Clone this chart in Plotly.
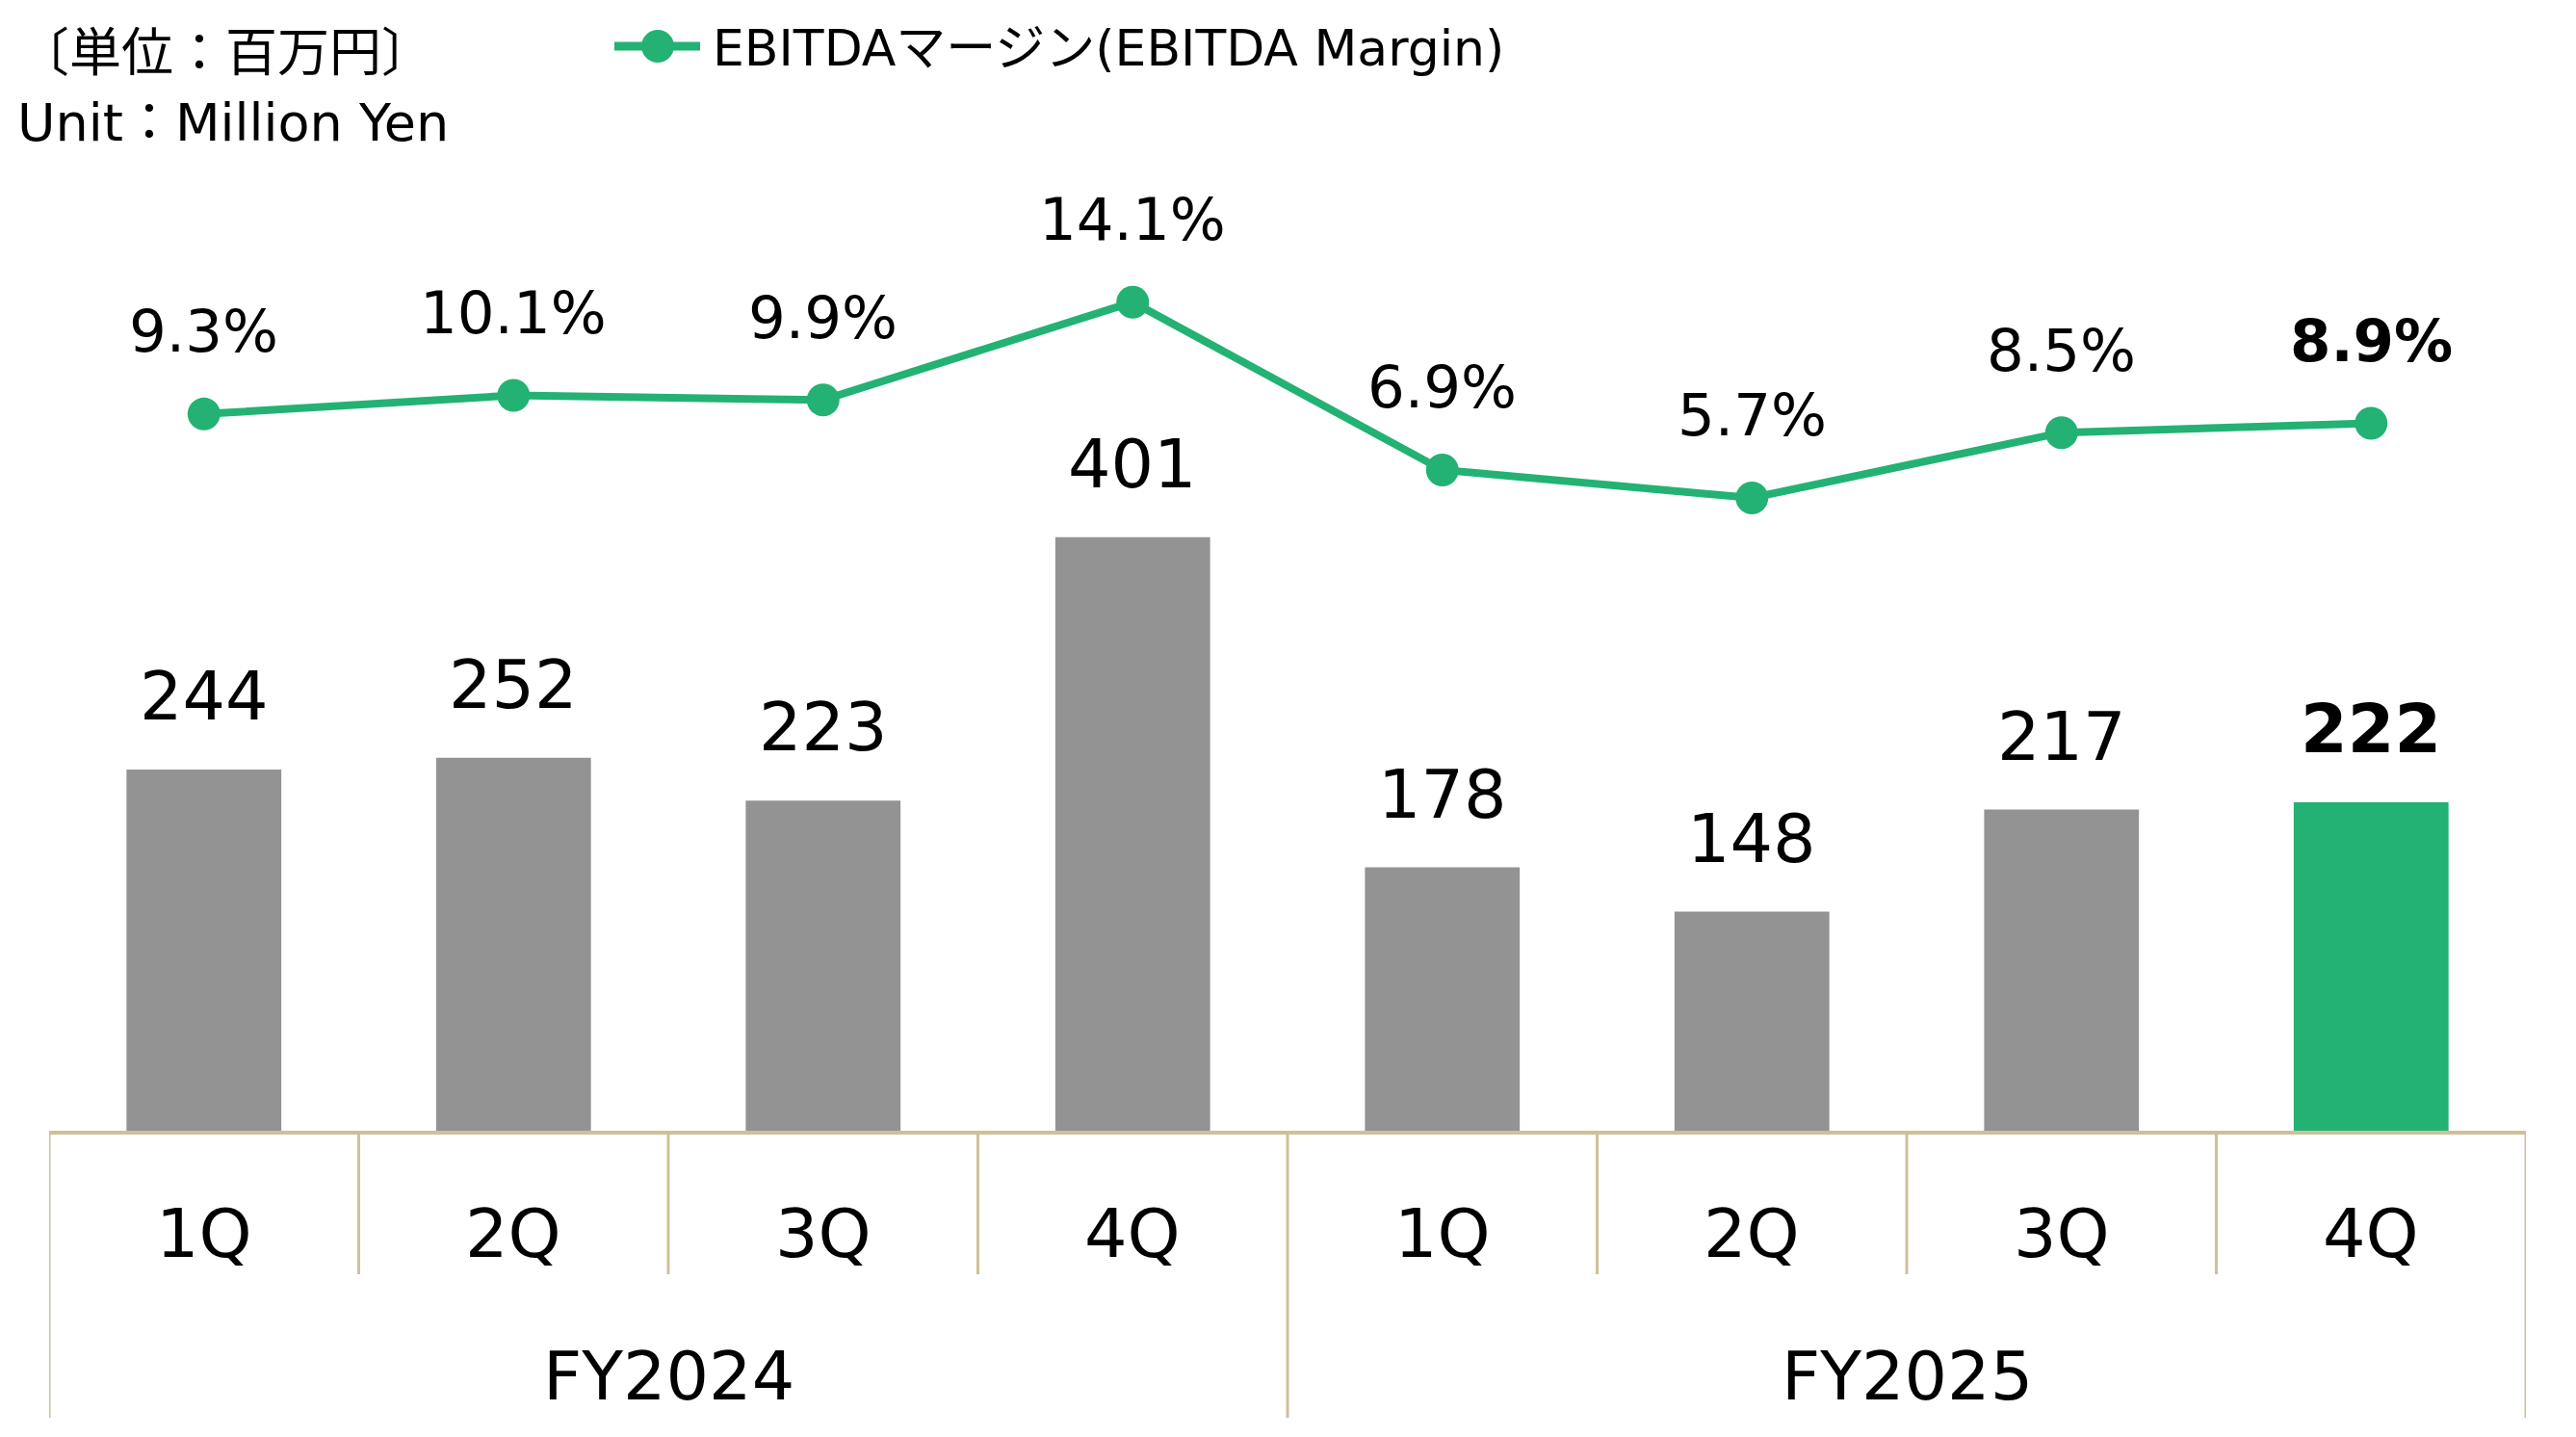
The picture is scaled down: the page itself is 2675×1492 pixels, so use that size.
import plotly.graph_objects as go

quarters = ["1Q", "2Q", "3Q", "4Q", "1Q", "2Q", "3Q", "4Q"]
years = ["FY2024", "FY2025"]
ebitda = [244, 252, 223, 401, 178, 148, 217, 222]
margin_pct = [9.3, 10.1, 9.9, 14.1, 6.9, 5.7, 8.5, 8.9]
bar_colors = ["#939393"] * 7 + ["#23B273"]
bold_flags = [False] * 7 + [True]

OFF = 8  # page body margin
W, H = 2675 - OFF, 1492 - OFF
ML, MT = 51 - OFF, 100 - OFF
PW, PH = 2572, 1074
MR, MB = W - ML - PW, H - MT - PH
GREEN = "#23B273"
TAN = "#CDC19A"
FONT = "DejaVu Sans, Noto Sans CJK JP, sans-serif"


def px_x(px):
    return (px - OFF - ML) / PW


def px_y(py):
    return (MT + PH - (py - OFF)) / PH


xs = list(range(len(quarters)))

fig = go.Figure()
fig.add_trace(go.Bar(
    x=xs, y=ebitda, width=0.5, marker=dict(color=bar_colors, line=dict(width=0)),
    showlegend=False, hoverinfo="skip",
))
fig.add_trace(go.Scatter(
    x=xs, y=margin_pct, yaxis="y2", mode="lines+markers",
    line=dict(color=GREEN, width=8), marker=dict(color=GREEN, size=34),
    showlegend=False, hoverinfo="skip",
))

ann = []
for i, v in enumerate(ebitda):
    t = f"<b>{v}</b>" if bold_flags[i] else f"{v}"
    ann.append(dict(x=i, y=v, xref="x", yref="y", text=t, showarrow=False,
                    yanchor="middle", yshift=76, font=dict(size=70, color="black", family=FONT)))
for i, v in enumerate(margin_pct):
    t = f"<b>{v:.1f}%</b>" if bold_flags[i] else f"{v:.1f}%"
    ann.append(dict(x=i, y=v, xref="x", yref="y2", text=t, showarrow=False,
                    yanchor="middle", yshift=86, font=dict(size=61, color="black", family=FONT)))
for i, q in enumerate(quarters):
    ann.append(dict(x=i, y=px_y(1281), xref="x", yref="paper", text=q, showarrow=False,
                    yanchor="middle", font=dict(size=70, color="black", family=FONT)))
for j, yname in enumerate(years):
    ann.append(dict(x=j * 4 + 1.5, y=px_y(1429), xref="x", yref="paper", text=yname, showarrow=False,
                    yanchor="middle", font=dict(size=70, color="black", family=FONT)))

# unit labels
ann.append(dict(x=px_x(16), y=px_y(55), xref="paper", yref="paper", text="〔単位：百万円〕",
                showarrow=False, xanchor="left", yanchor="middle",
                font=dict(size=54, color="black", family=FONT)))
ann.append(dict(x=px_x(16), y=px_y(128), xref="paper", yref="paper", text="Unit：Million Yen",
                showarrow=False, xanchor="left", yanchor="middle",
                font=dict(size=54, color="black", family=FONT)))
# legend text
ann.append(dict(x=px_x(738), y=px_y(50), xref="paper", yref="paper",
                text="EBITDAマージン(EBITDA Margin)",
                showarrow=False, xanchor="left", yanchor="middle",
                font=dict(size=52, color="black", family=FONT)))

shapes = []
# legend symbol
shapes.append(dict(type="line", xref="paper", yref="paper", x0=px_x(638), x1=px_x(727),
                   y0=px_y(48), y1=px_y(48), line=dict(color=GREEN, width=9)))
shapes.append(dict(type="circle", xref="paper", yref="paper", x0=px_x(666), x1=px_x(700),
                   y0=px_y(31), y1=px_y(65), fillcolor=GREEN, line=dict(width=0)))
# category dividers
for k in range(9):
    xv = k - 0.5
    long_line = k in (0, 4, 8)
    shapes.append(dict(type="line", xref="x", yref="paper", x0=xv, x1=xv, y0=0,
                       y1=px_y(1472) if long_line else px_y(1323),
                       line=dict(color=TAN, width=3)))

fig.update_layout(
    width=W, height=H,
    margin=dict(l=ML, r=MR, t=MT, b=MB),
    paper_bgcolor="white", plot_bgcolor="white",
    showlegend=False,
    xaxis=dict(range=[-0.5, 7.5], showline=True, linecolor=TAN, linewidth=4,
               showticklabels=False, showgrid=False, zeroline=False, ticks=""),
    yaxis=dict(range=[0, 699], visible=False),
    yaxis2=dict(range=[-21.45, 22.93], overlaying="y", visible=False),
    annotations=ann, shapes=shapes,
    font=dict(family=FONT),
)

fig.write_html("out.html")
